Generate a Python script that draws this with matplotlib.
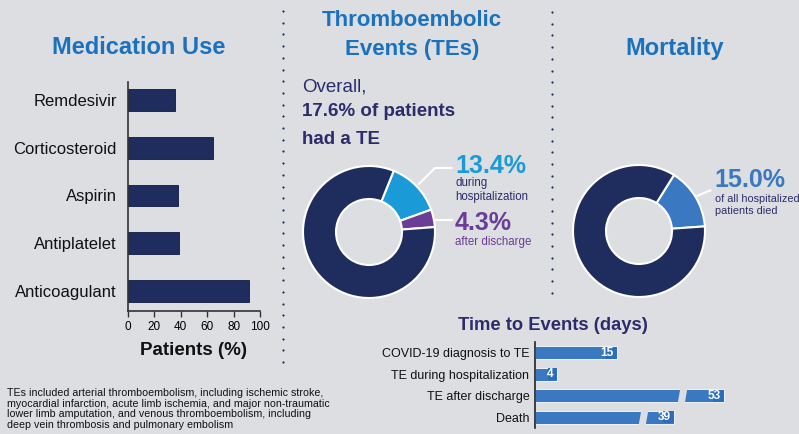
import numpy as np
import matplotlib
matplotlib.use("Agg")
import matplotlib.pyplot as plt
from matplotlib.patches import Polygon

plt.rcParams['font.family'] = ['Liberation Sans', 'DejaVu Sans']

# data
medications = ['Remdesivir', 'Corticosteroid', 'Aspirin', 'Antiplatelet', 'Anticoagulant']
med_pct = [35.5, 64.4, 37.5, 39, 91.7]
med_ticks = [0, 20, 40, 60, 80, 100]

te_labels = ['during\nhospitalization', 'after discharge']
te_pct = [13.4, 4.3]
te_overall = 17.6

mort_pct = 15.0

event_names = ['COVID-19 diagnosis to TE', 'TE during hospitalization', 'TE after discharge', 'Death']
event_days = [15, 4, 53, 39]
event_broken = [False, False, True, True]

footnote = ['TEs included arterial thromboembolism, including ischemic stroke,',
            'myocardial infarction, acute limb ischemia, and major non-traumatic',
            'lower limb amputation, and venous thromboembolism, including',
            'deep vein thrombosis and pulmonary embolism']

# colours
BG = '#dcdee1'
NAVY = '#1f2d5e'
TITLE_BLUE = '#1a72bf'
LIGHT_BLUE = '#1a9bd7'
PURPLE = '#6a3d96'
MID_BLUE = '#3a78c2'
LABEL_BLUE = '#2a6cbd'
TEXT_NAVY = '#2b2d6b'

W, H = 799, 434
fig = plt.figure(figsize=(W / 100, H / 100), dpi=100, facecolor=BG)


def box(x0, y0, x1, y1):
    # pixel box (top-left origin) -> figure fraction rect
    return [x0 / W, 1 - y1 / H, (x1 - x0) / W, (y1 - y0) / H]


def ftext(x, y, s, **kw):
    fig.text(x / W, 1 - y / H, s, **kw)


# separators
for sx, y0, y1 in [(283, 11, 368), (552, 12, 294)]:
    ys = np.arange(y0, y1, 11.7)
    fig.add_artist(plt.Line2D([sx / W] * len(ys), 1 - ys / H, ls='none', marker='o',
                              ms=1.6, color=NAVY, mec='none'))

# titles
ftext(139, 48, 'Medication Use', ha='center', va='center', fontsize=17, fontweight='bold', color=TITLE_BLUE)
ftext(412, 20, 'Thromboembolic', ha='center', va='center', fontsize=16, fontweight='bold', color=TITLE_BLUE)
ftext(412, 49, 'Events (TEs)', ha='center', va='center', fontsize=16, fontweight='bold', color=TITLE_BLUE)
ftext(675, 48, 'Mortality', ha='center', va='center', fontsize=17, fontweight='bold', color=TITLE_BLUE)

# medication bar chart
ax = fig.add_axes(box(128, 82, 260, 311))
ax.set_facecolor('none')
ypos = np.arange(len(medications))
ax.barh(ypos, med_pct, height=0.46, color=NAVY, edgecolor='#101a40', linewidth=0.6)
ax.set_yticks(ypos)
ax.set_yticklabels(medications, fontsize=12, color='#111111')
ax.set_ylim(len(medications) - 1 + 0.417, -0.375)
ax.set_xlim(0, 100)
ax.set_xticks(med_ticks)
ax.tick_params(axis='x', labelsize=8.5, length=4, width=1, color='#333333', pad=3)
ax.tick_params(axis='y', length=0, pad=8)
for s in ['top', 'right']:
    ax.spines[s].set_visible(False)
for s in ['left', 'bottom']:
    ax.spines[s].set_color('#333333')
    ax.spines[s].set_linewidth(1.2)
ax.set_xlabel('Patients (%)', fontsize=13.5, fontweight='bold', color='#111111', labelpad=7)

# TE donut
ftext(302, 87, 'Overall,', ha='left', va='center', fontsize=13.5, color=TEXT_NAVY)
ftext(302, 112, f'{te_overall}% of patients', ha='left', va='center', fontsize=13.5,
      fontweight='bold', color=TEXT_NAVY)
ftext(302, 139, 'had a TE', ha='left', va='center', fontsize=13.5, fontweight='bold', color=TEXT_NAVY)

ax2 = fig.add_axes(box(303, 166, 435, 298))
ax2.pie(te_pct + [100 - sum(te_pct)], colors=[LIGHT_BLUE, PURPLE, NAVY], startangle=68,
        counterclock=False, radius=1,
        wedgeprops=dict(width=0.5, edgecolor='white', linewidth=1.5))
ax2.set_xlim(-1, 1)
ax2.set_ylim(-1, 1)
ax2.set_aspect('auto')
ax2.axis('off')

a1 = np.deg2rad(68 - te_pct[0] * 3.6 / 2)
ax2.plot([1.05 * np.cos(a1), 1.0, 1.25], [1.05 * np.sin(a1), 0.97, 0.97], color='white', lw=1.5,
         clip_on=False)
a2 = np.deg2rad(68 - te_pct[0] * 3.6 - te_pct[1] * 3.6 / 2)
ax2.plot([1.02 * np.cos(a2), 1.25], [0.18, 0.18], color='white', lw=1.5, clip_on=False)

ftext(455, 166, f'{te_pct[0]}%', ha='left', va='center', fontsize=18, fontweight='bold', color=LIGHT_BLUE)
ftext(455, 190, te_labels[0], ha='left', va='center', fontsize=8.3, color=TEXT_NAVY, linespacing=1.2)
ftext(455, 223, f'{te_pct[1]}%', ha='left', va='center', fontsize=18, fontweight='bold', color=PURPLE)
ftext(455, 242, te_labels[1], ha='left', va='center', fontsize=8.3, color=PURPLE)

# mortality donut
ax3 = fig.add_axes(box(573, 165, 705, 297))
ax3.pie([mort_pct, 100 - mort_pct], colors=[MID_BLUE, NAVY], startangle=58, counterclock=False,
        radius=1, wedgeprops=dict(width=0.5, edgecolor='white', linewidth=1.5))
ax3.set_xlim(-1, 1)
ax3.set_ylim(-1, 1)
ax3.set_aspect('auto')
ax3.axis('off')
a3 = np.deg2rad(58 - mort_pct * 3.6 / 2)
ax3.plot([1.0 * np.cos(a3) + 0.03, 1.05 * np.cos(a3) + 0.18], [np.sin(a3) + 0.02, np.sin(a3) + 0.1],
         color='white', lw=1.5, clip_on=False)
ftext(714, 180, f'{mort_pct:.1f}%', ha='left', va='center', fontsize=18, fontweight='bold', color=MID_BLUE)
ftext(715, 205, 'of all hospitalized\npatients died', ha='left', va='center', fontsize=7.8,
      color=TEXT_NAVY, linespacing=1.3)

# time to events
ftext(553, 325, 'Time to Events (days)', ha='center', va='center', fontsize=13.2, fontweight='bold',
      color=TEXT_NAVY)
ax4 = fig.add_axes(box(535, 342, 760, 428))
ax4.set_facecolor('none')
squeeze = 0.655  # broken bars are drawn shortened
shown = [d * squeeze if b else d for d, b in zip(event_days, event_broken)]
epos = np.arange(len(event_names))
ax4.barh(epos, shown, height=0.62, color=MID_BLUE, edgecolor='white', linewidth=0.6)
ax4.set_xlim(0, 225 / 5.45)
ax4.set_ylim(len(event_names) - 0.5, -0.5)
ax4.set_yticks(epos)
ax4.set_yticklabels(event_names, fontsize=9, color='#111111')
ax4.tick_params(axis='y', length=0, pad=4)
ax4.set_xticks([])
for s in ['top', 'right', 'bottom']:
    ax4.spines[s].set_visible(False)
ax4.spines['left'].set_color('#222222')
ax4.spines['left'].set_linewidth(1.2)
for y, v, d, b in zip(epos, shown, event_days, event_broken):
    lw_ = 0.55 * len(str(d)) + 0.4
    ax4.barh(y, lw_ + 0.6, left=v - lw_ - 0.6, height=0.58, color=LABEL_BLUE, lw=0)
    ax4.text(v - 0.6, y, str(d), ha='right', va='center', fontsize=8.6, fontweight='bold', color='white')
    if b:
        gx = v * 0.78
        ax4.add_patch(Polygon([[gx - 0.9, y + 0.36], [gx + 0.4, y + 0.36],
                               [gx + 0.9, y - 0.36], [gx - 0.4, y - 0.36]],
                              closed=True, color=BG, lw=0))

# footnote
for i, line in enumerate(footnote):
    ftext(7, 393 + i * 10.7, line, ha='left', va='center', fontsize=7.7, color='#111111')

fig.savefig('out.png', dpi=100, facecolor=BG)
